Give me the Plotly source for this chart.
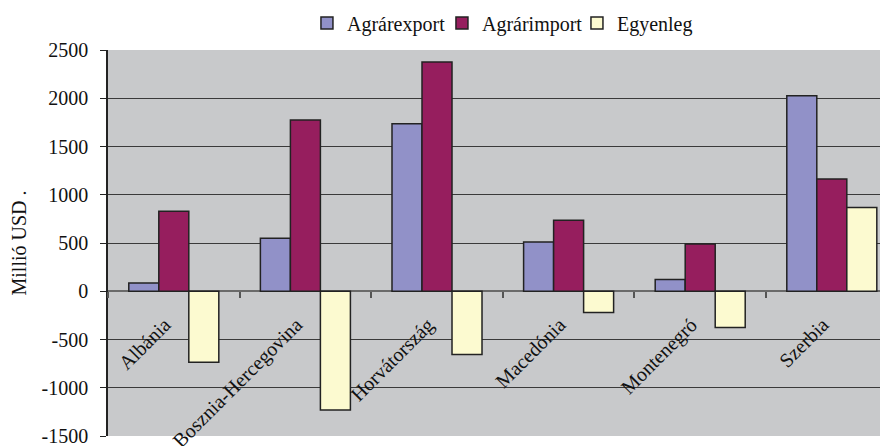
import plotly.graph_objects as go

categories = ["Albánia", "Bosznia-Hercegovina", "Horvátország", "Macedónia", "Montenegró", "Szerbia"]
agrarexport = [85, 550, 1735, 510, 122, 2027]
agrarimport = [830, 1775, 2375, 735, 490, 1162]
egyenleg = [-735, -1230, -655, -220, -375, 867]

series_names = ["Agrárexport", "Agrárimport", "Egyenleg"]
series_colors = ["#9191C8", "#961E5E", "#FCFAD0"]
legend_widths = [90, 90, 78]
y_ticks = [-1500, -1000, -500, 0, 500, 1000, 1500, 2000, 2500]
y_ticktext = [str(v) for v in y_ticks]

FONT = "Liberation Serif"

fig = go.Figure()
for name, vals, col, lw in zip(series_names, [agrarexport, agrarimport, egyenleg], series_colors, legend_widths):
    fig.add_trace(go.Bar(
        x=categories, y=vals, name=name, legendwidth=lw,
        marker=dict(color=col, line=dict(color="#222222", width=1.5)),
    ))

ymin, ymax = -1500, 2500
zero_frac = (0 - ymin) / (ymax - ymin)

fig.update_layout(
    width=880, height=438,
    margin=dict(l=100, r=0, t=42, b=10, autoexpand=False),
    paper_bgcolor="white",
    plot_bgcolor="#C8C9CB",
    barmode="group", bargap=0.316, bargroupgap=0,
    font=dict(family=FONT, size=20, color="#111111"),
    showlegend=True,
    legend=dict(orientation="h", x=0.507, xanchor="center", y=1.07, yanchor="middle",
                font=dict(family=FONT, size=20, color="#111111"),
                bgcolor="rgba(0,0,0,0)", itemwidth=30, tracegroupgap=0),
    xaxis=dict(
        type="category", range=[-0.5, 5.427],
        anchor="free", position=zero_frac,
        showline=False, showgrid=False,
        ticks="outside", tickson="boundaries", ticklen=6, tickwidth=1.5, tickcolor="#555555",
        tickangle=-45, ticklabelstandoff=17, ticklabelshift=-9,
        tickfont=dict(family=FONT, size=20, color="#111111"),
    ),
    yaxis=dict(
        range=[ymin, ymax], tickvals=y_ticks, ticktext=y_ticktext,
        ticklabeloverflow="allow",
        showgrid=True, gridcolor="#3a3a3a", gridwidth=1,
        zeroline=True, zerolinecolor="#6a6a6a", zerolinewidth=1.5,
        showline=True, linecolor="#222222", linewidth=1.5,
        ticks="outside", ticklen=6, tickcolor="#222222",
        ticklabelstandoff=8,
        tickfont=dict(family=FONT, size=20, color="#111111"),
        title=dict(text="Millió USD .", standoff=22, font=dict(family=FONT, size=20, color="#111111")),
    ),
)

fig.write_html("out.html")
